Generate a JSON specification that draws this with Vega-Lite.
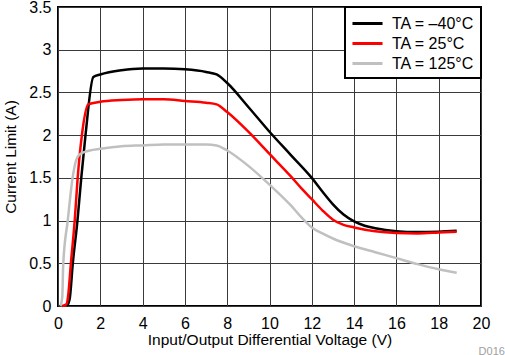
{
  "$schema": "https://vega.github.io/schema/vega-lite/v6.json",
  "autosize": {"type": "none"},
  "width": 423,
  "height": 299,
  "padding": {"left": 58, "top": 7, "right": 24, "bottom": 49},
  "config": {
    "font": "Liberation Sans",
    "view": {"stroke": "black", "strokeWidth": 2},
    "axis": {"domain": false, "ticks": false, "grid": true, "gridColor": "#3a3a3a", "gridWidth": 1, "gridOpacity": 1,
             "labelFontSize": 16, "labelColor": "black", "titleFontSize": 15.5, "titleFontWeight": "normal", "titleColor": "black"},
    "legend": {"strokeColor": "black", "strokeWidth": 2, "fillColor": "white"}
  },
  "title": {"text": "D016", "orient": "bottom", "anchor": "end", "fontSize": 11, "fontWeight": "normal", "color": "#a0a0a0", "offset": -2, "dx": 15},
  "data": {"values": [
    {"t": "TA = –40°C", "v": 0.42, "i": 0},
    {"t": "TA = –40°C", "v": 0.55, "i": 0.08},
    {"t": "TA = –40°C", "v": 0.7, "i": 0.5},
    {"t": "TA = –40°C", "v": 0.92, "i": 1.0},
    {"t": "TA = –40°C", "v": 1.1, "i": 1.5},
    {"t": "TA = –40°C", "v": 1.3, "i": 2.0},
    {"t": "TA = –40°C", "v": 1.67, "i": 2.68},
    {"t": "TA = –40°C", "v": 2.0, "i": 2.71},
    {"t": "TA = –40°C", "v": 3.0, "i": 2.76},
    {"t": "TA = –40°C", "v": 4.0, "i": 2.78},
    {"t": "TA = –40°C", "v": 5.0, "i": 2.78},
    {"t": "TA = –40°C", "v": 6.0, "i": 2.77},
    {"t": "TA = –40°C", "v": 7.0, "i": 2.74},
    {"t": "TA = –40°C", "v": 7.5, "i": 2.71},
    {"t": "TA = –40°C", "v": 8.0, "i": 2.61},
    {"t": "TA = –40°C", "v": 9.0, "i": 2.33},
    {"t": "TA = –40°C", "v": 10.0, "i": 2.04},
    {"t": "TA = –40°C", "v": 11.0, "i": 1.77},
    {"t": "TA = –40°C", "v": 12.0, "i": 1.5},
    {"t": "TA = –40°C", "v": 12.5, "i": 1.34},
    {"t": "TA = –40°C", "v": 13.0, "i": 1.19},
    {"t": "TA = –40°C", "v": 13.5, "i": 1.07},
    {"t": "TA = –40°C", "v": 14.0, "i": 0.99},
    {"t": "TA = –40°C", "v": 14.5, "i": 0.94},
    {"t": "TA = –40°C", "v": 15.0, "i": 0.91},
    {"t": "TA = –40°C", "v": 16.0, "i": 0.875},
    {"t": "TA = –40°C", "v": 17.0, "i": 0.865},
    {"t": "TA = –40°C", "v": 18.0, "i": 0.87},
    {"t": "TA = –40°C", "v": 18.85, "i": 0.88},
    {"t": "TA = 25°C", "v": 0.2, "i": 0},
    {"t": "TA = 25°C", "v": 0.4, "i": 0.02},
    {"t": "TA = 25°C", "v": 0.47, "i": 0.1},
    {"t": "TA = 25°C", "v": 0.61, "i": 0.5},
    {"t": "TA = 25°C", "v": 0.79, "i": 1.0},
    {"t": "TA = 25°C", "v": 0.93, "i": 1.5},
    {"t": "TA = 25°C", "v": 1.13, "i": 2.0},
    {"t": "TA = 25°C", "v": 1.43, "i": 2.36},
    {"t": "TA = 25°C", "v": 2.0, "i": 2.39},
    {"t": "TA = 25°C", "v": 3.0, "i": 2.41},
    {"t": "TA = 25°C", "v": 4.0, "i": 2.42},
    {"t": "TA = 25°C", "v": 5.0, "i": 2.42},
    {"t": "TA = 25°C", "v": 6.0, "i": 2.40},
    {"t": "TA = 25°C", "v": 7.0, "i": 2.38},
    {"t": "TA = 25°C", "v": 7.5, "i": 2.36},
    {"t": "TA = 25°C", "v": 8.0, "i": 2.27},
    {"t": "TA = 25°C", "v": 9.0, "i": 2.04},
    {"t": "TA = 25°C", "v": 10.0, "i": 1.78},
    {"t": "TA = 25°C", "v": 11.0, "i": 1.52},
    {"t": "TA = 25°C", "v": 11.5, "i": 1.38},
    {"t": "TA = 25°C", "v": 12.0, "i": 1.25},
    {"t": "TA = 25°C", "v": 12.5, "i": 1.12},
    {"t": "TA = 25°C", "v": 13.0, "i": 1.01},
    {"t": "TA = 25°C", "v": 13.5, "i": 0.95},
    {"t": "TA = 25°C", "v": 14.0, "i": 0.92},
    {"t": "TA = 25°C", "v": 15.0, "i": 0.875},
    {"t": "TA = 25°C", "v": 16.0, "i": 0.855},
    {"t": "TA = 25°C", "v": 17.0, "i": 0.85},
    {"t": "TA = 25°C", "v": 18.0, "i": 0.86},
    {"t": "TA = 25°C", "v": 18.85, "i": 0.87},
    {"t": "TA = 125°C", "v": 0.12, "i": 0},
    {"t": "TA = 125°C", "v": 0.2, "i": 0.1},
    {"t": "TA = 125°C", "v": 0.25, "i": 0.5},
    {"t": "TA = 125°C", "v": 0.46, "i": 1.0},
    {"t": "TA = 125°C", "v": 0.69, "i": 1.5},
    {"t": "TA = 125°C", "v": 0.85, "i": 1.7},
    {"t": "TA = 125°C", "v": 1.0, "i": 1.77},
    {"t": "TA = 125°C", "v": 1.5, "i": 1.82},
    {"t": "TA = 125°C", "v": 2.0, "i": 1.84},
    {"t": "TA = 125°C", "v": 3.0, "i": 1.87},
    {"t": "TA = 125°C", "v": 4.0, "i": 1.88},
    {"t": "TA = 125°C", "v": 5.0, "i": 1.89},
    {"t": "TA = 125°C", "v": 6.0, "i": 1.89},
    {"t": "TA = 125°C", "v": 7.0, "i": 1.89},
    {"t": "TA = 125°C", "v": 7.5, "i": 1.88},
    {"t": "TA = 125°C", "v": 8.0, "i": 1.82},
    {"t": "TA = 125°C", "v": 9.0, "i": 1.64},
    {"t": "TA = 125°C", "v": 10.0, "i": 1.42},
    {"t": "TA = 125°C", "v": 11.0, "i": 1.18},
    {"t": "TA = 125°C", "v": 11.5, "i": 1.04},
    {"t": "TA = 125°C", "v": 12.0, "i": 0.92},
    {"t": "TA = 125°C", "v": 12.5, "i": 0.85},
    {"t": "TA = 125°C", "v": 13.0, "i": 0.79},
    {"t": "TA = 125°C", "v": 14.0, "i": 0.70},
    {"t": "TA = 125°C", "v": 15.0, "i": 0.63},
    {"t": "TA = 125°C", "v": 16.0, "i": 0.56},
    {"t": "TA = 125°C", "v": 17.0, "i": 0.49},
    {"t": "TA = 125°C", "v": 18.0, "i": 0.43},
    {"t": "TA = 125°C", "v": 18.85, "i": 0.39}
  ]},
  "mark": {"type": "line", "strokeWidth": 2.5, "interpolate": "monotone"},
  "encoding": {
    "x": {"field": "v", "type": "quantitative", "title": "Input/Output Differential Voltage (V)",
          "scale": {"domain": [0, 20], "nice": false, "zero": true},
          "axis": {"values": [0, 2, 4, 6, 8, 10, 12, 14, 16, 18, 20], "labelPadding": 9, "titlePadding": 1, "labelFlush": false}},
    "y": {"field": "i", "type": "quantitative", "title": "Current Limit (A)",
          "scale": {"domain": [0, 3.5], "nice": false},
          "axis": {"values": [0, 0.5, 1, 1.5, 2, 2.5, 3, 3.5], "format": "~g", "labelPadding": 7, "titlePadding": 10, "labelFlush": false}},
    "color": {"field": "t", "type": "nominal",
              "scale": {"domain": ["TA = –40°C", "TA = 25°C", "TA = 125°C"], "range": ["#000000", "#ff0000", "#c0c0c0"]},
              "legend": {"title": null, "orient": "top-right", "offset": 0, "symbolType": "M-1.67,0H1.67", "symbolSize": 324,
                         "symbolStrokeWidth": 3, "symbolOffset": 6, "labelFontSize": 16, "labelColor": "black", "labelOffset": 14,
                         "padding": 6, "rowPadding": 1, "labelLimit": 200}}
  }
}
